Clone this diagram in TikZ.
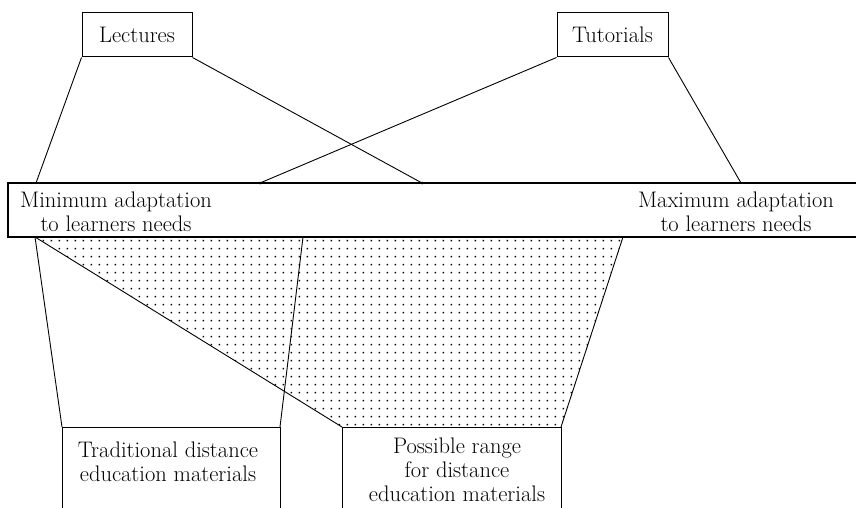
\documentclass[tikz,border=0pt]{standalone}
\usepackage{fontspec}
\usetikzlibrary{patterns}
\pgfdeclarepatternformonly{sparsedots}{\pgfpointorigin}{\pgfpoint{8pt}{8pt}}{\pgfpoint{8pt}{8pt}}{%
  \pgfpathrectangle{\pgfpoint{3pt}{3pt}}{\pgfpoint{1.7pt}{1.7pt}}\pgfusepath{fill}}
\begin{document}
\begin{tikzpicture}[x=1pt,y=-1pt,
  every node/.style={font=\rmfamily\fontsize{22.5}{24}\selectfont},
  topbox/.style={draw,line width=1pt,minimum height=44pt,inner sep=0pt},
  lbl/.style={align=center,inner sep=0pt,anchor=north},
  conn/.style={line width=0.9pt}]
\useasboundingbox (0,0) rectangle (856,508);
% dotted range
\coordinate (b1) at (35,237);
\coordinate (b2) at (303,237);
\coordinate (b3) at (623,237);
\coordinate (trTL) at (62,427);
\coordinate (trTR) at (280,427);
\coordinate (poTL) at (342,427);
\coordinate (poTR) at (561,427);
\fill[pattern=sparsedots] (b1) -- (b3) -- (poTR) -- (poTL) -- cycle;
% top boxes
\node[topbox,minimum width=110pt] (lect) at (137,35) {Lectures};
\node[topbox,minimum width=111pt] (tut) at (612.5,35) {Tutorials};
% bar
\coordinate (barTL) at (8,183);
\coordinate (barBL) at (8,237);
\coordinate (barTR) at (860,183);
\coordinate (barBR) at (860,237);
\draw[line width=1.2pt] (barTR) -- (barTL) -- (barBL) -- (barBR);
\node[lbl] (minad) at (116,191.5) {Minimum adaptation\\to learners needs};
\node[lbl] (maxad) at (736,191.5) {Maximum adaptation\\to learners needs};
% attachment points on bar
\coordinate (a1) at (36,183);
\coordinate (a2) at (422,183);
\coordinate (t1) at (260,183);
\coordinate (t2) at (741,183);
% connectors from top boxes
\draw[conn] (lect.south west) -- (a1);
\draw[conn] (lect.south east) -- (a2);
\draw[conn] (tut.south west) -- (t1);
\draw[conn] (tut.south east) -- (t2);
\fill (t1) circle (1.5pt);
\fill (a2) circle (1.5pt);
% bottom boxes (open at bottom)
\coordinate (trBL) at (62,512);
\coordinate (trBR) at (280,512);
\coordinate (poBL) at (342,512);
\coordinate (poBR) at (561,512);
\draw[line width=1pt] (trBL) -- (trTL) -- (trTR) -- (trBR);
\draw[line width=1pt] (poBL) -- (poTL) -- (poTR) -- (poBR);
\node[lbl] (trtext) at (168,441.5) {Traditional distance\\education materials};
\node[lbl] (potext) at (457,437.5) {Possible range\\for distance\\education materials};
% connectors from bar to bottom boxes
\draw[conn] (b1) -- (trTL);
\draw[conn] (b1) -- (poTL);
\draw[conn] (b2) -- (trTR);
\draw[conn] (b3) -- (poTR);
\end{tikzpicture}
\end{document}
